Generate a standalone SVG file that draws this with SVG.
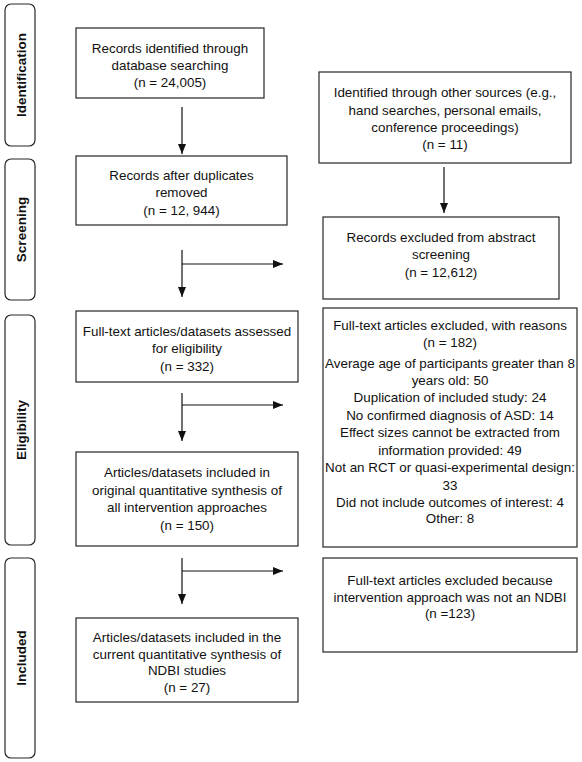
<svg xmlns="http://www.w3.org/2000/svg" width="582" height="762" viewBox="0 0 582 762">
<defs>
<style>
.box{fill:#fff;stroke:#262626;stroke-width:1.2}
.stage{fill:#fff;stroke:#262626;stroke-width:1.2}
text{font-family:"Liberation Sans",Arial,sans-serif;font-size:13.4px;fill:#111;text-anchor:middle}
.st{font-weight:bold;font-size:13.5px;dominant-baseline:central}
.con{stroke:#111;stroke-width:1.2;fill:none}
</style>
<marker id="ah" markerWidth="10" markerHeight="8" refX="10" refY="4" orient="auto" markerUnits="userSpaceOnUse">
<path d="M0,0 L10,4 L0,8 Z" fill="#111"/>
</marker>
</defs>
<rect width="582" height="762" fill="#fff"/>

<g id="stage-identification">
<rect class="stage" x="5" y="4" width="30" height="142" rx="6"/>
<text class="st" transform="translate(21,75) rotate(-90)">Identification</text>
</g>
<g id="stage-screening">
<rect class="stage" x="5" y="159" width="30" height="141" rx="6"/>
<text class="st" transform="translate(21,229.5) rotate(-90)">Screening</text>
</g>
<g id="stage-eligibility">
<rect class="stage" x="5" y="315" width="30" height="230" rx="6"/>
<text class="st" transform="translate(21,430) rotate(-90)">Eligibility</text>
</g>
<g id="stage-included">
<rect class="stage" x="5" y="558" width="30" height="200" rx="6"/>
<text class="st" transform="translate(21,658) rotate(-90)">Included</text>
</g>

<g id="box-database">
<rect class="box" x="76" y="28" width="188" height="70"/>
<text x="170" y="53">Records identified through</text>
<text x="170" y="70">database searching</text>
<text x="170" y="87">(n = 24,005)</text>
</g>
<g id="box-other">
<rect class="box" x="319" y="72" width="252" height="91"/>
<text x="445" y="97">Identified through other sources (e.g.,</text>
<text x="445" y="115">hand searches, personal emails,</text>
<text x="445" y="132">conference proceedings)</text>
<text x="445" y="149">(n = 11)</text>
</g>
<g id="box-duplicates">
<rect class="box" x="76" y="156" width="211" height="69"/>
<text x="181.5" y="180">Records after duplicates</text>
<text x="181.5" y="197">removed</text>
<text x="181.5" y="215">(n = 12, 944)</text>
</g>
<g id="box-abstract-excluded">
<rect class="box" x="323" y="217" width="236" height="82"/>
<text x="441" y="242">Records excluded from abstract</text>
<text x="441" y="259">screening</text>
<text x="441" y="277">(n = 12,612)</text>
</g>
<g id="box-fulltext">
<rect class="box" x="76" y="311" width="222" height="71"/>
<text x="187" y="336">Full-text articles/datasets assessed</text>
<text x="187" y="353">for eligibility</text>
<text x="187" y="371">(n = 332)</text>
</g>
<g id="box-fulltext-excluded">
<rect class="box" x="323" y="308" width="254" height="239"/>
<text x="450" y="330">Full-text articles excluded, with reasons</text>
<text x="450" y="347">(n = 182)</text>
<text x="450" y="368">Average age of participants greater than 8</text>
<text x="450" y="385">years old: 50</text>
<text x="450" y="402">Duplication of included study: 24</text>
<text x="450" y="420">No confirmed diagnosis of ASD: 14</text>
<text x="450" y="437">Effect sizes cannot be extracted from</text>
<text x="450" y="455">information provided: 49</text>
<text x="450" y="472">Not an RCT or quasi-experimental design:</text>
<text x="450" y="490">33</text>
<text x="450" y="507">Did not include outcomes of interest: 4</text>
<text x="450" y="523">Other: 8</text>
</g>
<g id="box-original">
<rect class="box" x="76" y="452" width="222" height="94"/>
<text x="187" y="477">Articles/datasets included in</text>
<text x="187" y="494.5">original quantitative synthesis of</text>
<text x="187" y="512">all intervention approaches</text>
<text x="187" y="529.5">(n = 150)</text>
</g>
<g id="box-not-ndbi">
<rect class="box" x="323" y="558" width="254" height="94"/>
<text x="450" y="585">Full-text articles excluded because</text>
<text x="450" y="602">intervention approach was not an NDBI</text>
<text x="450" y="618">(n =123)</text>
</g>
<g id="box-current">
<rect class="box" x="76" y="618" width="222" height="84"/>
<text x="187" y="642">Articles/datasets included in the</text>
<text x="187" y="659">current quantitative synthesis of</text>
<text x="187" y="675">NDBI studies</text>
<text x="187" y="692">(n = 27)</text>
</g>

<g id="connectors">
<line class="con" x1="182" y1="107" x2="182" y2="154" marker-end="url(#ah)"/>
<line class="con" x1="444" y1="167" x2="444" y2="213" marker-end="url(#ah)"/>
<line class="con" x1="182" y1="250" x2="182" y2="297" marker-end="url(#ah)"/>
<line class="con" x1="182" y1="264" x2="283" y2="264" marker-end="url(#ah)"/>
<line class="con" x1="182" y1="393" x2="182" y2="441" marker-end="url(#ah)"/>
<line class="con" x1="182" y1="405" x2="283" y2="405" marker-end="url(#ah)"/>
<line class="con" x1="182" y1="558" x2="182" y2="604" marker-end="url(#ah)"/>
<line class="con" x1="182" y1="571" x2="283" y2="571" marker-end="url(#ah)"/>
</g>
</svg>
